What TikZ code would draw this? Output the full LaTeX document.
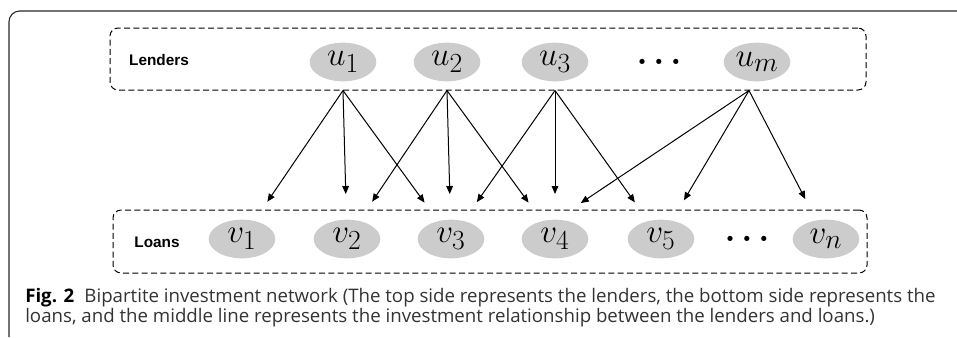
\documentclass[tikz,border=0pt]{standalone}
\usepackage{amsmath}
\usepackage{fontspec}
\setsansfont{Open Sans}
\newfontfamily\labelfont{Liberation Sans}
\usepackage{tikz}
\usetikzlibrary{shapes.geometric, arrows.meta, positioning}

\begin{document}
\begin{tikzpicture}[x=0.75pt, y=-0.75pt,
        vertex/.style={ellipse, fill=gray!40, minimum width=50pt, minimum height=29pt, inner sep=0pt, font=\fontsize{28}{30}\selectfont},
        group/.style={draw, dash pattern=on 4.5pt off 2.5pt, rounded corners=6pt, line width=0.75pt},
        side/.style={font=\labelfont\bfseries\fontsize{11.5}{13}\selectfont},
        link/.style={-{Triangle[length=6pt, width=5pt]}, line width=0.75pt, shorten >=33.75pt}]
        \useasboundingbox (0,0) rectangle (957,337);
        % Frame
        \draw[line width=0.8pt, black!85, rounded corners=8pt] (957,11) -- (9,11) -- (9,337);
        % Lenders
        \node[group, minimum width=567pt, minimum height=46.5pt] (lenders) at (488,59) {};
        \node[side] (lendtxt) at (159,60) {Lenders};
        \node[vertex] (u1) at (343,62) {$u_1$};
        \node[vertex] (u2) at (447,62) {$u_2$};
        \node[vertex] (u3) at (555,62) {$u_3$};
        \node[font=\fontsize{30}{30}\selectfont\boldmath] (udots) at (659,62) {$\ldots$};
        \node[vertex] (um) at (757,62) {$u_m$};
        % Loans
        \node[group, minimum width=565.5pt, minimum height=47.25pt] (loans) at (490,241.5) {};
        \node[side] (loantxt) at (157,242) {Loans};
        \node[vertex] (v1) at (242,239) {$v_1$};
        \node[vertex] (v2) at (347,239) {$v_2$};
        \node[vertex] (v3) at (451,239) {$v_3$};
        \node[vertex] (v4) at (555,239) {$v_4$};
        \node[vertex] (v5) at (661,239) {$v_5$};
        \node[font=\fontsize{30}{30}\selectfont\boldmath] (vdots) at (747,239) {$\ldots$};
        \node[vertex] (vn) at (826,239) {$v_n$};
        % Investments
        \foreach \s/\t in {u1/v1, u1/v2, u1/v3, u2/v2, u2/v3, u2/v4, u3/v3, u3/v4, u3/v5}
            \draw[link] (\s |- lenders.south) -- (\t.center);
        \path (um |- lenders.south) ++(-8,0) coordinate (umfoot);
        \draw[link, shorten >=48.5pt] (umfoot) -- ([xshift=-21pt]v4.center);
        \draw[link] (umfoot) -- (v5.center);
        \draw[link] (umfoot) -- (vn.center);
        % Caption
        \node[anchor=base west, inner sep=0pt, text=black!80, font=\sffamily\fontsize{14}{15}\selectfont] (cap1) at (25,302)
            {\textbf{\color{black}Fig. 2}\hspace{0.55em}Bipartite investment network (The top side represents the lenders, the bottom side represents the};
        \node[anchor=base west, inner sep=0pt, text=black!80, font=\sffamily\fontsize{14}{15}\selectfont] (cap2) at ([yshift=-15pt]cap1.base west)
            {loans, and the middle line represents the investment relationship between the lenders and loans.)};
    \end{tikzpicture}
\end{document}
